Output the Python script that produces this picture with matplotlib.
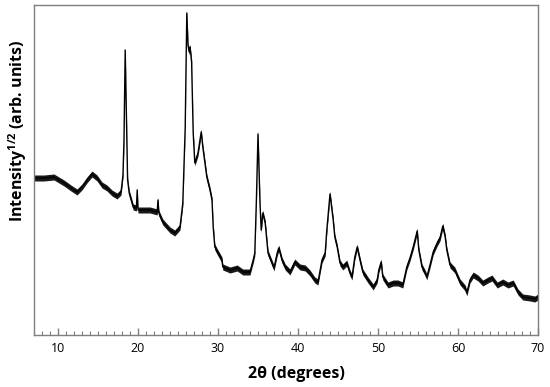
import numpy as np
import matplotlib
matplotlib.use('Agg')
import matplotlib.pyplot as plt
from matplotlib.ticker import MultipleLocator

# 2theta positions (degrees)
two_theta = [
    7.0, 8.25, 9.5, 10.12, 10.75, 11.62, 12.38, 13.0, 13.62, 14.25,
    14.88, 15.5, 16.12, 16.75, 17.38, 17.88, 18.12, 18.25, 18.4, 18.56,
    18.7, 18.9, 19.4, 19.8, 19.9, 20.0, 20.6, 21.5, 22.4, 22.5,
    22.6, 23.1, 24.0, 24.6, 25.25, 25.6, 25.9, 26.1, 26.25, 26.4,
    26.5, 26.7, 26.9, 27.1, 27.5, 27.9, 28.1, 28.6, 29.0, 29.25,
    29.4, 29.6, 30.0, 30.5, 30.6, 31.5, 32.4, 33.1, 34.0, 34.4,
    34.6, 34.8, 35.0, 35.25, 35.4, 35.6, 35.9, 36.25, 36.75, 37.0,
    37.4, 37.6, 38.0, 38.4, 39.0, 39.6, 40.25, 40.9, 41.5, 42.1,
    42.5, 43.0, 43.4, 43.6, 44.0, 44.4, 44.6, 44.9, 45.25, 45.6,
    46.1, 46.5, 46.75, 47.1, 47.4, 47.75, 48.1, 48.75, 49.4, 49.9,
    50.1, 50.4, 50.6, 51.25, 51.9, 52.5, 53.1, 53.6, 54.0, 54.4,
    54.9, 55.1, 55.5, 55.9, 56.1, 56.5, 56.9, 57.4, 57.75, 58.1,
    58.4, 58.6, 59.0, 59.6, 60.25, 60.9, 61.1, 61.5, 61.9, 62.5,
    63.1, 63.75, 64.25, 64.9, 65.6, 66.25, 66.9, 67.5, 68.1, 69.0,
    69.6, 70.0,
]

# sqrt intensity, arbitrary units
intensity = [
    157, 157, 158, 155, 152, 147, 143, 148, 155, 161,
    157, 150, 147, 142, 139, 143, 160, 195, 285, 215,
    155, 142, 128, 127, 145, 125, 125, 125, 123, 135,
    122, 113, 105, 102, 108, 132, 207, 322, 290, 283,
    288, 273, 202, 172, 182, 203, 188, 158, 145, 135,
    108, 88, 82, 75, 68, 65, 67, 63, 63, 75,
    82, 135, 201, 132, 105, 122, 112, 82, 72, 67,
    82, 87, 75, 68, 63, 73, 68, 67, 62, 55,
    53, 75, 82, 105, 141, 115, 98, 88, 72, 68,
    72, 62, 58, 78, 88, 75, 63, 55, 48, 55,
    65, 73, 58, 50, 52, 52, 50, 68, 77, 88,
    104, 85, 68, 62, 58, 70, 83, 92, 97, 109,
    98, 85, 70, 65, 53, 47, 42, 55, 60, 57,
    52, 55, 57, 50, 53, 50, 52, 43, 38, 37,
    36, 38,
]

x_ticks = [10, 20, 30, 40, 50, 60, 70]
noise = 3  # half thickness of the noisy trace, same units as intensity

plt.rcParams['font.family'] = ['Open Sans', 'DejaVu Sans']
plt.rcParams['mathtext.fontset'] = 'custom'
plt.rcParams['mathtext.bf'] = 'Open Sans:bold'
plt.rcParams['mathtext.rm'] = 'Open Sans:bold'

fig = plt.figure(figsize=(5.5, 3.87), dpi=100)
ax = fig.add_axes([34 / 550, 52 / 387, 504 / 550, 330 / 387])

y = np.array(intensity, dtype=float)
ax.fill_between(two_theta, y - noise, y + noise, color='black', lw=0, alpha=0.9)
ax.plot(two_theta, y, color='black', lw=1.0)

ax.set_xlim(7, 70)
ax.set_ylim(0, 330)
ax.set_xticks(x_ticks)
ax.xaxis.set_minor_locator(MultipleLocator(1))
ax.set_yticks([])
ax.tick_params(axis='x', which='both', direction='in', colors='#7f7f7f',
               labelcolor='black', labelsize=9, pad=5)
ax.tick_params(axis='x', which='major', length=5, width=1)
ax.tick_params(axis='x', which='minor', length=3, width=0.8)

for s in ax.spines.values():
    s.set_color('#7f7f7f')
    s.set_linewidth(1)

fig.text(296 / 550, 1 - 374 / 387, '2\u03b8 (degrees)', ha='center', va='center',
         fontsize=11.5, fontweight='bold')
fig.text(18 / 550, 1 - 131 / 387, r'Intensity$^{1/2}$ (arb. units)', ha='center',
         va='center', rotation=90, fontsize=11.5, fontweight='bold')

fig.savefig('out.png', dpi=100)
